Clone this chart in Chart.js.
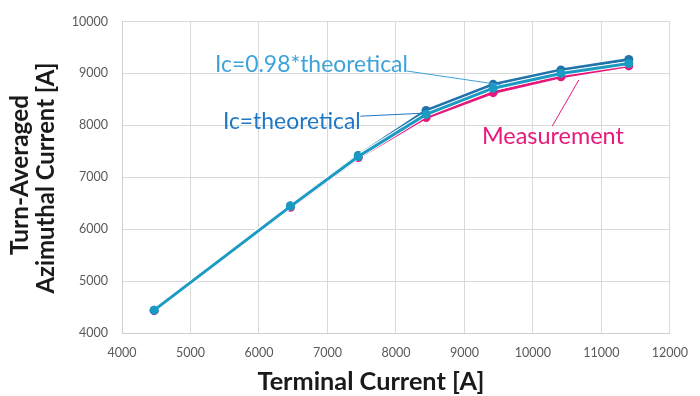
<!DOCTYPE html>
<html>
<head>
<meta charset="utf-8">
<script src="https://cdn.jsdelivr.net/npm/chart.js@4/dist/chart.umd.min.js"></script>
<style>
html,body{margin:0;padding:0;background:#fff;}
#wrap{position:relative;width:700px;height:396px;}
</style>
</head>
<body>
<div id="wrap"><canvas id="c" width="700" height="396"></canvas></div>
<script>
// ---- data ----
const terminalCurrent = [4470, 6460, 7450, 8440, 9420, 10410, 11400];
const icTheoretical   = [4440, 6450, 7420, 8285, 8790, 9065, 9270];
const ic098           = [4440, 6440, 7400, 8210, 8715, 9000, 9190];
const measurement     = [4430, 6420, 7380, 8150, 8630, 8935, 9145];
const xTicks = [4000, 5000, 6000, 7000, 8000, 9000, 10000, 11000, 12000];
const yTicks = [4000, 5000, 6000, 7000, 8000, 9000, 10000];

const pts = arr => terminalCurrent.map((x, i) => ({x: x, y: arr[i]}));

// annotation labels (anchored in data units)
const notes = [
  {text: 'Ic=0.98*theoretical', color: '#3ea3da', x: 5357, y: 9160, w: 193,
   lx1: 8159, ly1: 9046, lx2: 9531, ly2: 8780},
  {text: 'Ic=theoretical', color: '#1f78c6', x: 5473, y: 8081, w: 138,
   lx1: 7480, ly1: 8176, lx2: 8361, ly2: 8231},
  {text: 'Measurement', color: '#e8197c', x: 9256, y: 7777, w: 142,
   lx1: 10282, ly1: 7985, lx2: 10671, ly2: 8875}
];

function fitFont(ctx, text, weight, family, targetW) {
  ctx.font = weight + ' 100px ' + family;
  const w = ctx.measureText(text).width;
  const size = 100 * targetW / w;
  ctx.font = weight + ' ' + size.toFixed(2) + 'px ' + family;
  return size;
}

// white halo under each line (library-computed element positions)
const haloPlugin = {
  id: 'halo',
  beforeDatasetDraw(chart, args) {
    const meta = args.meta, ctx = chart.ctx;
    if (!meta.data || meta.data.length < 2) return;
    ctx.save();
    ctx.strokeStyle = '#ffffff';
    ctx.lineWidth = 5;
    ctx.lineJoin = 'round';
    ctx.beginPath();
    meta.data.forEach((p, i) => { if (i === 0) ctx.moveTo(p.x, p.y); else ctx.lineTo(p.x, p.y); });
    ctx.stroke();
    ctx.restore();
  }
};

const annotPlugin = {
  id: 'annot',
  afterDatasetsDraw(chart) {
    const ctx = chart.ctx, xs = chart.scales.x, ys = chart.scales.y;
    ctx.save();
    notes.forEach(n => {
      ctx.strokeStyle = n.color;
      ctx.lineWidth = 1;
      ctx.beginPath();
      ctx.moveTo(xs.getPixelForValue(n.lx1), ys.getPixelForValue(n.ly1));
      ctx.lineTo(xs.getPixelForValue(n.lx2), ys.getPixelForValue(n.ly2));
      ctx.stroke();
      fitFont(ctx, n.text, 'normal', 'Lato', n.w);
      ctx.fillStyle = n.color;
      ctx.textAlign = 'left';
      ctx.textBaseline = 'middle';
      ctx.fillText(n.text, xs.getPixelForValue(n.x), ys.getPixelForValue(n.y));
    });
    // axis titles
    ctx.fillStyle = '#1a1a1a';
    ctx.textAlign = 'center';
    ctx.textBaseline = 'middle';
    fitFont(ctx, 'Terminal Current [A]', 'bold', 'Lato', 227);
    ctx.fillText('Terminal Current [A]', 371, 382);
    ctx.save();
    ctx.translate(20, 175);
    ctx.rotate(-Math.PI / 2);
    fitFont(ctx, 'Turn-Averaged', 'bold', 'Lato', 160);
    ctx.fillText('Turn-Averaged', 0, 0);
    ctx.restore();
    ctx.save();
    ctx.translate(46, 178);
    ctx.rotate(-Math.PI / 2);
    fitFont(ctx, 'Azimuthal Current [A]', 'bold', 'Lato', 231);
    ctx.fillText('Azimuthal Current [A]', 0, 0);
    ctx.restore();
    ctx.restore();
  }
};

const ds = (label, arr, color) => ({
  label: label, data: pts(arr), borderColor: color, backgroundColor: color,
  borderWidth: 3, pointRadius: 4.5, pointHoverRadius: 4.5, pointBorderWidth: 0,
  tension: 0, fill: false
});

new Chart(document.getElementById('c'), {
  type: 'line',
  data: {
    datasets: [
      ds('Ic=0.98*theoretical', ic098, '#1b9bc3'),
      ds('Ic=theoretical', icTheoretical, '#2174ab'),
      ds('Measurement', measurement, '#e5197a')
    ]
  },
  options: {
    responsive: false,
    animation: false,
    events: [],
    layout: {padding: {left: 0, right: 24, top: 16, bottom: 0}},
    plugins: {legend: {display: false}, tooltip: {enabled: false}},
    scales: {
      x: {
        type: 'linear', min: 4000, max: 12000,
        afterBuildTicks: s => { s.ticks = xTicks.map(v => ({value: v})); },
        afterFit: s => { s.height = 63; },
        grid: {color: '#d9d9d9', lineWidth: 1, drawTicks: false},
        border: {color: '#d0d0d0', width: 1},
        ticks: {color: '#595959', font: {family: 'Lato', size: 12.5}, padding: 12, maxRotation: 0,
                callback: v => String(v)}
      },
      y: {
        type: 'linear', min: 4000, max: 10000,
        afterBuildTicks: s => { s.ticks = yTicks.map(v => ({value: v})); },
        afterFit: s => { s.width = 122; },
        grid: {color: '#d9d9d9', lineWidth: 1, drawTicks: false},
        border: {color: '#d0d0d0', width: 1},
        ticks: {color: '#595959', font: {family: 'Lato', size: 12.5}, padding: 14,
                callback: v => String(v)}
      }
    }
  },
  plugins: [haloPlugin, annotPlugin]
});
</script>
</body>
</html>
